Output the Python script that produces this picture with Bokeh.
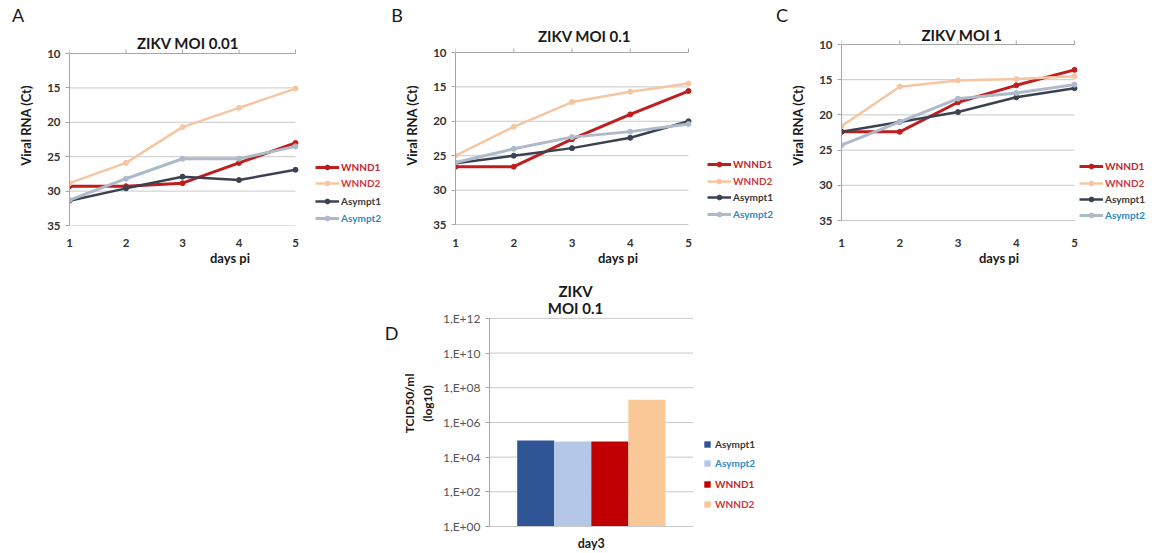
from bokeh.plotting import figure
from bokeh.models import (Range1d, FixedTicker, CustomJSTickFormatter, Legend,
                          LegendItem, Label, ColumnDataSource)
from bokeh.layouts import row, column
from bokeh.embed import file_html
from bokeh.resources import INLINE

# ---------------- data ----------------
days = [1, 2, 3, 4, 5]
ct_ticks = [10, 15, 20, 25, 30, 35]
series = ["WNND1", "WNND2", "Asympt1", "Asympt2"]

moi001_wnnd1 = [29.3, 29.3, 28.85, 25.9, 23.0]
moi001_wnnd2 = [28.85, 25.9, 20.7, 17.9, 15.1]
moi001_asympt1 = [31.4, 29.6, 27.9, 28.4, 26.9]
moi001_asympt2 = [31.3, 28.2, 25.3, 25.3, 23.5]

moi01_wnnd1 = [26.6, 26.6, 22.6, 19.0, 15.6]
moi01_wnnd2 = [25.0, 20.8, 17.2, 15.7, 14.5]
moi01_asympt1 = [26.1, 25.0, 23.9, 22.4, 20.0]
moi01_asympt2 = [26.0, 24.0, 22.3, 21.5, 20.4]

moi1_wnnd1 = [22.4, 22.4, 18.2, 15.8, 13.6]
moi1_wnnd2 = [21.6, 16.0, 15.1, 14.9, 14.5]
moi1_asympt1 = [22.4, 21.0, 19.6, 17.5, 16.2]
moi1_asympt2 = [24.3, 21.0, 17.7, 16.9, 15.7]

bar_category = ["day3"]
bar_series = ["Asympt1", "Asympt2", "WNND1", "WNND2"]
bar_values = [9.0e4, 8.0e4, 8.0e4, 2.0e7]
tcid_ticks = [1, 1e2, 1e4, 1e6, 1e8, 1e10, 1e12]
tcid_tick_labels = ["1,E+00", "1,E+02", "1,E+04", "1,E+06", "1,E+08", "1,E+10", "1,E+12"]

# ---------------- style ----------------
FONT = "Lato"
LINE_COL = {"WNND1": "#BE1E1E", "WNND2": "#F6C6A2", "Asympt1": "#3A4252", "Asympt2": "#AEB9CA"}
LINE_W = {"WNND1": 3, "WNND2": 2.5, "Asympt1": 2.5, "Asympt2": 3}
TXT_COL = {"WNND1": "#C0282D", "WNND2": "#CC3A3F", "Asympt1": "#3A3A3A", "Asympt2": "#2E8BC0"}
BAR_COL = {"Asympt1": "#2F5597", "Asympt2": "#B4C7E7", "WNND1": "#C00000", "WNND2": "#F9C896"}
GRID = "#C8C8C8"
AXIS = "#A6A6A6"
TEXT = "#1A1A1A"
STRIP_H = 25


def add_text(p, x, y, text, size, bold=True, align="center"):
    p.add_layout(Label(x=x, y=y, x_units="screen", y_units="screen", text=text,
                       text_font=FONT, text_font_size=size,
                       text_font_style="bold" if bold else "normal",
                       text_align=align, text_baseline="middle", text_color=TEXT))


def clean(p):
    p.outline_line_color = None
    p.background_fill_color = None
    p.border_fill_color = None
    p.grid.visible = False


def line_panel(vals, title, title_c, W, H, fl, x5, y10, y35, fb, legend_x, legend_ys):
    # pixel geometry (figure-local) -> data ranges
    pxu = (x5 - fl) / 4.0
    x_end = days[-1] + (W - x5) / pxu
    pyu = (y35 - y10) / 25.0
    y_bottom = ct_ticks[-1] + (fb - y35) / pyu
    y_top = ct_ticks[0] - y10 / pyu
    p = figure(width=W, height=H, output_backend="svg", toolbar_location=None,
               x_range=Range1d(days[0], x_end), y_range=Range1d(y_bottom, y_top),
               min_border_left=fl, min_border_right=0,
               min_border_top=0, min_border_bottom=H - fb)
    clean(p)

    grid_src = ColumnDataSource(dict(y=ct_ticks[1:]))
    p.segment(x0=days[0], x1=days[-1], y0="y", y1="y", source=grid_src,
              line_color=GRID, line_width=1)
    # category axis line at Ct = 10 with outward tick marks
    p.segment(x0=days[0], x1=days[-1], y0=ct_ticks[0], y1=ct_ticks[0], line_color=AXIS, line_width=1)
    tick_src = ColumnDataSource(dict(x=days))
    p.segment(x0="x", x1="x", y0=ct_ticks[0], y1=ct_ticks[0] - 4 / pyu, source=tick_src,
              line_color=AXIS, line_width=1)

    xa = p.xaxis[0]
    xa.bounds = (days[0], days[-1])
    xa.ticker = FixedTicker(ticks=days)
    xa.axis_line_color = None
    xa.major_tick_line_color = None
    xa.major_tick_out = 0
    xa.minor_tick_line_color = None
    xa.minor_tick_out = 0
    xa.major_label_standoff = 13
    xa.axis_label = "days pi"
    xa.axis_label_standoff = 0
    ya = p.yaxis[0]
    ya.bounds = (ct_ticks[0], ct_ticks[-1])
    ya.ticker = FixedTicker(ticks=ct_ticks)
    ya.axis_line_color = AXIS
    ya.major_tick_line_color = AXIS
    ya.major_tick_out = 4
    ya.major_tick_in = 0
    ya.minor_tick_line_color = None
    ya.major_label_standoff = 5
    ya.axis_label = "Viral RNA (Ct)"
    ya.axis_label_standoff = 10
    for ax in (xa, ya):
        ax.major_label_text_font = FONT
        ax.major_label_text_font_style = "bold"
        ax.major_label_text_font_size = "11.5px"
        ax.major_label_text_color = "#333333"
        ax.axis_label_text_font = FONT
        ax.axis_label_text_font_style = "bold"
        ax.axis_label_text_font_size = "13px"
        ax.axis_label_text_color = TEXT

    for name in series:
        v = vals[name]
        ln = p.line(days, v, line_color=LINE_COL[name], line_width=LINE_W[name])
        sc = p.scatter(days, v, size=5, color=LINE_COL[name])
        yc = legend_ys[name]
        lg = Legend(items=[LegendItem(label=name, renderers=[ln, sc])],
                    location=(legend_x - fl, fb - yc - 6),
                    padding=0, margin=0, spacing=0,
                    glyph_width=24, glyph_height=12, label_height=12, label_standoff=2,
                    label_text_font=FONT, label_text_font_style="bold",
                    label_text_font_size="10px", label_text_color=TXT_COL[name],
                    background_fill_alpha=0, border_line_alpha=0)
        p.add_layout(lg)

    add_text(p, title_c[0] - fl, fb - title_c[1], title, "15px")
    return p


S = STRIP_H
H_TOP = 280 - S
FB_TOP = 225 - S

# letters strip (full width)
letters = figure(width=1156, height=S, output_backend="svg", toolbar_location=None,
                 x_range=Range1d(0, 1156), y_range=Range1d(0, S),
                 x_axis_location=None, y_axis_location=None, min_border=0)
clean(letters)
add_text(letters, 17.5, S - 14, "A", "18px", bold=False)
add_text(letters, 396.5, S - 14, "B", "18px", bold=False)
add_text(letters, 781.5, S - 14, "C", "18px", bold=False)

# ---- panel A (canvas x 0..390) ----
pA = line_panel({"WNND1": moi001_wnnd1, "WNND2": moi001_wnnd2,
                 "Asympt1": moi001_asympt1, "Asympt2": moi001_asympt2},
                "ZIKV MOI 0.01", (187.5, 42.5 - S),
                W=390, H=H_TOP, fl=69, x5=295, y10=53 - S, y35=225 - S, fb=FB_TOP, legend_x=315,
                legend_ys={"WNND1": 167 - S, "WNND2": 183 - S, "Asympt1": 201 - S, "Asympt2": 217.5 - S})

# ---- panel B (canvas x 390..780) ----
pB = line_panel({"WNND1": moi01_wnnd1, "WNND2": moi01_wnnd2,
                 "Asympt1": moi01_asympt1, "Asympt2": moi01_asympt2},
                "ZIKV MOI 0.1", (584 - 390, 35 - S),
                W=390, H=H_TOP, fl=65, x5=298, y10=52 - S, y35=224 - S, fb=FB_TOP, legend_x=317,
                legend_ys={"WNND1": 164 - S, "WNND2": 180.5 - S, "Asympt1": 197 - S, "Asympt2": 213.5 - S})

# ---- panel C (canvas x 780..1156) ----
pC = line_panel({"WNND1": moi1_wnnd1, "WNND2": moi1_wnnd2,
                 "Asympt1": moi1_asympt1, "Asympt2": moi1_asympt2},
                "ZIKV MOI 1", (961.5 - 780, 34 - S),
                W=376, H=H_TOP, fl=61, x5=294, y10=44 - S, y35=220 - S, fb=FB_TOP, legend_x=299,
                legend_ys={"WNND1": 166 - S, "WNND2": 183 - S, "Asympt1": 199 - S, "Asympt2": 215 - S})

# ---------------- panel D (canvas x 399..780, y 280..553) ----------------
W, H, fl, fb = 381, 273, 88, 247
y_top_px = 38          # pixel row of 1E+12 inside the figure
unit_px = 205.0        # width of the single category slot
dec_per_px = 12.0 / (fb - y_top_px)
y_end = 10 ** (12 + y_top_px * dec_per_px)
pD = figure(width=W, height=H, output_backend="svg", toolbar_location=None,
            x_range=Range1d(0, (W - fl) / unit_px), y_axis_type="log", y_range=Range1d(1, y_end),
            min_border_left=fl, min_border_right=0, min_border_top=0, min_border_bottom=H - fb)
clean(pD)

gsrc = ColumnDataSource(dict(y=tcid_ticks[1:]))
pD.segment(x0=0, x1=1, y0="y", y1="y", source=gsrc, line_color=GRID, line_width=1)

bw = 0.182
for i, name in enumerate(bar_series):
    src = ColumnDataSource(dict(x=[0.5 + (i - 1.5) * bw], top=[bar_values[i]], bottom=[1]))
    r = pD.vbar(x="x", top="top", bottom="bottom", width=bw, source=src,
                fill_color=BAR_COL[name], line_color=None)
    yc = [165, 184, 205, 225][i]
    lg = Legend(items=[LegendItem(label=name, renderers=[r])],
                location=(302 - fl, fb - yc - 6),
                padding=0, margin=0, spacing=0,
                glyph_width=8, glyph_height=8, label_height=12, label_standoff=4,
                label_text_font=FONT, label_text_font_style="bold",
                label_text_font_size="10px", label_text_color=TXT_COL[name],
                background_fill_alpha=0, border_line_alpha=0)
    pD.add_layout(lg)

xa = pD.xaxis[0]
xa.bounds = (0, 1)
xa.ticker = FixedTicker(ticks=[0.5])
xa.formatter = CustomJSTickFormatter(args=dict(labels=bar_category), code="return labels[0];")
xa.axis_line_color = GRID
xa.major_tick_line_color = None
xa.major_tick_out = 0
xa.minor_tick_line_color = None
xa.minor_tick_out = 0
xa.major_label_standoff = 9
xa.major_label_text_font = FONT
xa.major_label_text_font_style = "bold"
xa.major_label_text_font_size = "12.5px"
xa.major_label_text_color = TEXT

ya = pD.yaxis[0]
ya.bounds = (tcid_ticks[0], tcid_ticks[-1])
ya.ticker = FixedTicker(ticks=tcid_ticks)
ya.formatter = CustomJSTickFormatter(args=dict(labels=tcid_tick_labels),
                                     code="return labels[Math.round(Math.log10(tick) / 2)];")
ya.axis_line_color = AXIS
ya.major_tick_line_color = AXIS
ya.major_tick_out = 4
ya.major_tick_in = 0
ya.minor_tick_line_color = None
ya.minor_tick_out = 0
ya.major_label_standoff = 5
ya.major_label_text_font = FONT
ya.major_label_text_font_size = "12px"
ya.major_label_text_color = "#555555"
ya.axis_label = "TCID50/ml\n(log10)"
ya.axis_label_standoff = 5
ya.axis_label_text_font = FONT
ya.axis_label_text_font_style = "bold"
ya.axis_label_text_font_size = "12px"
ya.axis_label_text_color = TEXT

add_text(pD, 573 - 399 - fl, fb - 11, "ZIKV", "15px")
add_text(pD, 573 - 399 - fl, fb - 28, "MOI 0.1", "15px")

# letter D, in a blank figure left of panel D (same vertical borders)
sD = figure(width=399, height=H, output_backend="svg", toolbar_location=None,
            x_range=Range1d(0, 399), y_range=Range1d(0, fb),
            x_axis_location=None, y_axis_location=None,
            min_border_left=0, min_border_right=0, min_border_top=0, min_border_bottom=H - fb)
clean(sD)
add_text(sD, 398, fb - 53, "D", "18px", bold=False, align="right")

layout = column(letters, row(pA, pB, pC), row(sD, pD))

with open("out.html", "w") as f:
    f.write(file_html(layout, INLINE))
